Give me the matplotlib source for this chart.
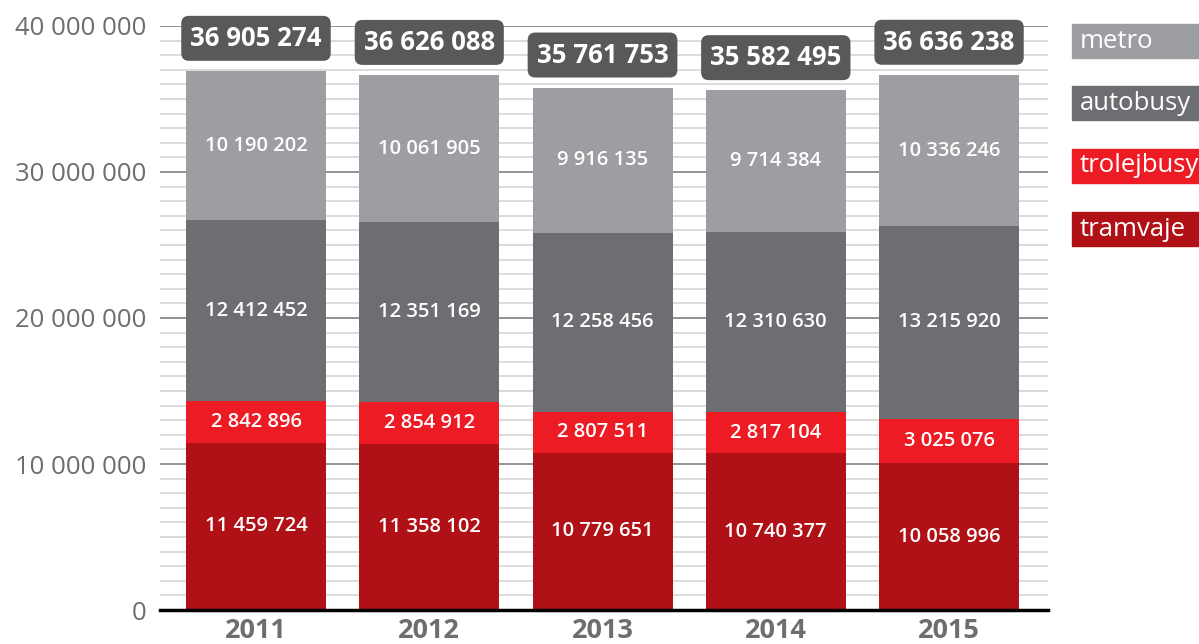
import matplotlib.pyplot as plt
from matplotlib.patches import Rectangle
from matplotlib.ticker import MultipleLocator, FuncFormatter

plt.rcParams['font.family'] = ['Open Sans', 'DejaVu Sans']

years = ['2011', '2012', '2013', '2014', '2015']
tramvaje = [11459724, 11358102, 10779651, 10740377, 10058996]
trolejbusy = [2842896, 2854912, 2807511, 2817104, 3025076]
autobusy = [12412452, 12351169, 12258456, 12310630, 13215920]
metro = [10190202, 10061905, 9916135, 9714384, 10336246]
totals = [36905274, 36626088, 35761753, 35582495, 36636238]

series = [('tramvaje', tramvaje, '#b01117'),
          ('trolejbusy', trolejbusy, '#ed1c24'),
          ('autobusy', autobusy, '#6d6e71'),
          ('metro', metro, '#9d9ea2')]


def fmt(v):
    return f"{int(v):,}".replace(",", " ")


fig = plt.figure(figsize=(11.99, 6.44), dpi=100)
ax = fig.add_axes([160 / 1199, 34 / 644, 888 / 1199, 584 / 644])

x = list(range(len(years)))
bottom = [0] * len(years)
for name, vals, col in series:
    ax.bar(x, vals, bottom=bottom, width=0.808, color=col, zorder=3)
    for i, v in enumerate(vals):
        ax.text(i, bottom[i] + v / 2, fmt(v), ha='center', va='center',
                color='white', fontsize=14.5, fontweight='semibold', zorder=4)
    bottom = [b + v for b, v in zip(bottom, vals)]

# total labels in rounded boxes
for i, t in enumerate(totals):
    ax.text(i, t + 2.25e6, fmt(t), ha='center', va='center', color='white',
            fontsize=18.5, fontweight='bold', zorder=5, clip_on=False,
            bbox=dict(boxstyle='round,pad=0.35,rounding_size=0.3',
                      fc='#58595b', ec='none'))

ax.set_xlim(-0.554, 4.571)
ax.set_ylim(0, 40e6)
ax.yaxis.set_major_locator(MultipleLocator(10e6))
ax.yaxis.set_minor_locator(MultipleLocator(1e6))
ax.yaxis.set_major_formatter(FuncFormatter(lambda v, p: fmt(v)))
ax.grid(axis='y', which='minor', color='#dcdcdd', lw=1.4, zorder=0)
for v in range(5, 45, 5):
    ax.axhline(v * 1e6, color='#8a8b8e', lw=1.3, zorder=1)

ax.set_xticks(x)
ax.set_xticklabels(years, fontsize=19.5, fontweight='bold', color='#6d6e71')
ax.tick_params(axis='x', length=0, pad=6)
ax.tick_params(axis='y', which='both', length=0, pad=10, labelsize=18.5,
               labelcolor='#6d6e71')
for s in ['top', 'right', 'left']:
    ax.spines[s].set_visible(False)
ax.spines['bottom'].set_color('black')
ax.spines['bottom'].set_linewidth(2.5)
ax.spines['bottom'].set_zorder(6)

# legend boxes on the right
leg_top = [24, 86, 149, 212]
for (name, vals, col), yt in zip(reversed(series), leg_top):
    fig.patches.append(Rectangle((1072 / 1199, 1 - (yt + 34) / 644),
                                 127 / 1199, 34 / 644, color=col,
                                 transform=fig.transFigure))
    fig.text(1080 / 1199, 1 - (yt + 17) / 644, name, ha='left', va='center',
             color='white', fontsize=18.5)

fig.savefig('out.png', dpi=100)
